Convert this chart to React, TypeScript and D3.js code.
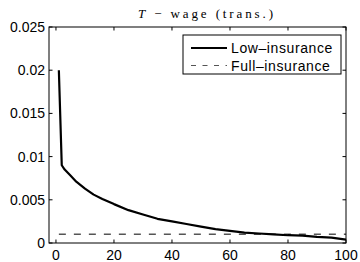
import React from 'react';
import * as d3 from 'd3';

// series
const periods = [1, 2, 3, 5, 7, 10, 13, 16, 20, 25, 30, 35, 40, 45, 50, 55, 60, 65, 70, 75, 80, 85, 90, 95, 100];
const lowInsurance = [0.02, 0.009, 0.0085, 0.0078, 0.0071, 0.0063, 0.0056, 0.0051, 0.0045, 0.0038, 0.0033, 0.0028, 0.0025, 0.0022, 0.0019, 0.0016, 0.0014, 0.0012, 0.0011, 0.001, 0.0009, 0.00085, 0.0007, 0.00062, 0.0004];
const fullInsurance = [0.001, 0.001];
const fullPeriods = [1, 100];
const xTicks = [0, 20, 40, 60, 80, 100];
const yTicks = [0, 0.005, 0.01, 0.015, 0.02, 0.025];
const yTickLabels = ['0', '0.005', '0.01', '0.015', '0.02', '0.025'];
const legendLabels = ['Low\u2013insurance', 'Full\u2013insurance'];

const W = 360, H = 262;
const margin = { top: 27, right: 14, bottom: 19, left: 49 };

export default function App() {
  const x = d3.scaleLinear().domain([-2.4, 100]).range([margin.left, W - margin.right]);
  const y = d3.scaleLinear().domain([0, 0.025]).range([H - margin.bottom, margin.top]);

  const line = d3.line<[number, number]>().x(d => x(d[0])).y(d => y(d[1]));
  const low = line(periods.map((p, i) => [p, lowInsurance[i]]));
  const full = line(fullPeriods.map((p, i) => [p, fullInsurance[i]]));

  const x0 = margin.left, x1 = W - margin.right;
  const y0 = H - margin.bottom, y1 = margin.top;
  const tick = 3.5;
  const font = 'Liberation Sans, Arial, sans-serif';

  // legend box
  const lx = 183, ly = 35, lw = 158, lh = 39;

  return (
    <svg width={W} height={H} style={{ position: 'absolute', left: 0, top: 0, background: '#fff' }}>
      <rect x={0} y={0} width={W} height={H} fill="#fff" />
      {/* curves */}
      <path d={full || ''} fill="none" stroke="#555" strokeWidth={1.5} strokeDasharray="7,8" />
      <path d={low || ''} fill="none" stroke="#000" strokeWidth={2.2} strokeLinejoin="round" />
      {/* axis box */}
      <rect x={x0} y={y1} width={x1 - x0} height={y0 - y1} fill="none" stroke="#000" strokeWidth={1} />
      {xTicks.map(t => (
        <g key={'x' + t}>
          <line x1={x(t)} x2={x(t)} y1={y0} y2={y0 - tick} stroke="#000" />
          <line x1={x(t)} x2={x(t)} y1={y1} y2={y1 + tick} stroke="#000" />
          <text x={x(t)} y={260} textAnchor="middle" fontFamily={font} fontSize={14}>{t}</text>
        </g>
      ))}
      {yTicks.map((t, i) => (
        <g key={'y' + t}>
          <line x1={x0} x2={x0 + tick} y1={y(t)} y2={y(t)} stroke="#000" />
          <line x1={x1} x2={x1 - tick} y1={y(t)} y2={y(t)} stroke="#000" />
          <text x={x0 - 4} y={y(t) + 5} textAnchor="end" fontFamily={font} fontSize={14}>{yTickLabels[i]}</text>
        </g>
      ))}
      {/* title */}
      <text x={138} y={18} fontFamily="Liberation Serif, serif" fontSize={13} textLength={135} lengthAdjust="spacing">
        <tspan fontStyle="italic">T</tspan>
        <tspan> {'\u2212'} wage (trans.)</tspan>
      </text>
      {/* legend */}
      <rect x={lx} y={ly} width={lw} height={lh} fill="#fff" stroke="#000" strokeWidth={1} />
      <line x1={191} x2={227} y1={48} y2={48} stroke="#000" strokeWidth={2.2} />
      <line x1={191} x2={227} y1={65.5} y2={65.5} stroke="#555" strokeWidth={1.2} strokeDasharray="5,6.5" />
      <text x={231} y={53} fontFamily={font} fontSize={14} letterSpacing={0.6}>{legendLabels[0]}</text>
      <text x={231} y={70.5} fontFamily={font} fontSize={14} letterSpacing={0.6}>{legendLabels[1]}</text>
    </svg>
  );
}
